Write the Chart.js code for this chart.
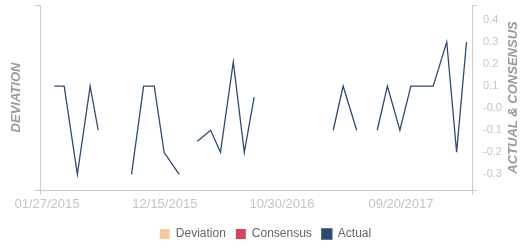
<!DOCTYPE html>
<html>
<head>
<meta charset="utf-8">
<script src="https://cdn.jsdelivr.net/npm/chart.js@4"></script>
<style>
  body { margin: 0; background: #fff; }
  #wrap { width: 531px; height: 250px; }
</style>
</head>
<body>
<div id="wrap"><canvas id="econChart"></canvas></div>
<script>
// release dates and values, null = no release shown
const actualDates = [
    '2015-02-16','2015-03-15','2015-04-20','2015-05-25','2015-06-16','2015-07-15','2015-08-14',
    '2015-09-15','2015-10-18','2015-11-16','2015-12-13','2016-01-23','2016-02-16',
    '2016-03-13','2016-04-18','2016-05-15','2016-06-19','2016-07-19','2016-08-15',
    '2016-09-15','2016-10-15','2016-11-15','2016-12-15','2017-01-15','2017-02-15',
    '2017-03-19','2017-04-15','2017-05-22','2017-06-19',
    '2017-07-17','2017-08-14','2017-09-17','2017-10-17','2017-11-16','2017-12-17',
    '2018-01-23','2018-02-19','2018-03-18'
];
const actual = [
    0.1, 0.1, -0.3, 0.1, -0.1, null, null,
    -0.3, 0.1, 0.1, -0.2, -0.3, null,
    -0.15, -0.1, -0.2, 0.21, -0.2, 0.05,
    null, null, null, null, null, null,
    -0.1, 0.1, -0.1, null,
    -0.1, 0.1, -0.1, 0.1, 0.1, 0.1,
    0.3, -0.2, 0.3
];
const consensus = [];
const deviation = [];

const xTickDates = ['2015-01-27', '2015-12-15', '2016-10-30', '2017-09-20'];
const xTickLabels = ['01/27/2015', '12/15/2015', '10/30/2016', '09/20/2017'];
const yTickValues = [0.4, 0.3, 0.2, 0.1, 0, -0.1, -0.2, -0.3];
const yTickLabels = ['0.4', '0.3', '0.2', '0.1', '-0.0', '-0.1', '-0.2', '-0.3'];

const toMs = s => Date.parse(s + 'T00:00:00Z');
const xMin = toMs('2015-01-08');
const xMax = toMs('2018-04-02');
const yMin = -0.371, yMax = 0.468;

const axisColor = '#cccccc';
const endTicksOnly = ctx => (ctx.index === 0 || ctx.index === ctx.scale.ticks.length - 1) ? axisColor : 'rgba(0,0,0,0)';

// axis titles read bottom-to-top on both sides
const axisTitles = {
    id: 'axisTitles',
    afterDraw(chart) {
        const c = chart.ctx, area = chart.chartArea;
        const midY = (area.top + area.bottom) / 2;
        c.save();
        c.font = 'italic bold 13px Arial, "Liberation Sans", sans-serif';
        c.fillStyle = '#999999';
        c.textAlign = 'center';
        c.textBaseline = 'middle';
        [['DEVIATION', 16.5], ['ACTUAL & CONSENSUS', chart.scales.yRight.left + 41]].forEach(function(t){
            c.save();
            c.translate(t[1], midY);
            c.rotate(-Math.PI / 2);
            c.fillText(t[0], 0, 0);
            c.restore();
        });
        c.restore();
    }
};

Chart.defaults.font.family = 'Arial, "Liberation Sans", sans-serif';

const ctx = document.getElementById('econChart');
const econChart = new Chart(ctx, {
    type: 'line',
    data: {
        datasets: [{
            type: 'bar',
            label: 'Deviation',
            data: deviation,
            yAxisID: 'yLeft',
            backgroundColor: '#f5cca0',
            borderWidth: 0
        }, {
            label: 'Consensus',
            data: consensus,
            yAxisID: 'yRight',
            backgroundColor: '#d24659',
            borderColor: '#d24659',
            borderWidth: 0
        }, {
            label: 'Actual',
            data: actualDates.map((d, i) => ({ x: toMs(d), y: actual[i] })),
            yAxisID: 'yRight',
            backgroundColor: '#2d4a70',
            borderColor: '#2d4a70',
            borderWidth: 1.3,
            pointRadius: 0,
            pointHoverRadius: 0,
            tension: 0,
            spanGaps: false
        }]
    },
    options: {
        responsive: true,
        maintainAspectRatio: false,
        animation: false,
        layout: { padding: { top: 5, left: 0, right: 0, bottom: 0 } },
        plugins: {
            tooltip: { enabled: false },
            legend: {
                position: 'bottom',
                labels: {
                    boxWidth: 10,
                    boxHeight: 10,
                    padding: 10,
                    color: '#666666',
                    font: { size: 12 }
                }
            }
        },
        scales: {
            x: {
                type: 'linear',
                offset: false,
                min: xMin,
                max: xMax,
                afterBuildTicks: s => { s.ticks = [xMin].concat(xTickDates.map(toMs), [xMax]).map(v => ({ value: v })); },
                afterFit: s => { s.height = 28; s.paddingLeft = 0; s.paddingRight = 0; },
                border: { color: axisColor },
                grid: { offset: false, drawOnChartArea: false, tickLength: 5, color: endTicksOnly },
                ticks: {
                    autoSkip: false,
                    maxRotation: 0,
                    padding: 2,
                    color: '#c4c4c4',
                    font: { size: 13 },
                    callback: (v, i) => (i === 0 || i === xTickDates.length + 1) ? '' : xTickLabels[i - 1]
                }
            },
            yLeft: {
                type: 'linear',
                position: 'left',
                min: 0,
                max: 1,
                afterBuildTicks: s => { s.ticks = [{ value: 0 }, { value: 1 }]; },
                afterFit: s => { s.width = 40; s.paddingTop = 0; s.paddingBottom = 0; },
                border: { color: axisColor },
                grid: { drawOnChartArea: false, tickLength: 5, color: axisColor },
                ticks: { callback: () => '' }
            },
            yRight: {
                type: 'linear',
                position: 'right',
                min: yMin,
                max: yMax,
                afterBuildTicks: s => { s.ticks = [yMax].concat(yTickValues, [yMin]).map(v => ({ value: v })); },
                afterFit: s => { s.width = 59; s.paddingTop = 0; s.paddingBottom = 0; },
                border: { color: axisColor },
                grid: { drawOnChartArea: false, tickLength: 5, color: endTicksOnly },
                ticks: {
                    padding: 6,
                    color: '#c4c4c4',
                    font: { size: 11 },
                    callback: function(v, i) {
                        const k = yTickValues.indexOf(v);
                        return k < 0 ? '' : yTickLabels[k];
                    }
                }
            }
        }
    },
    plugins: [axisTitles]
});
</script>
</body>
</html>
